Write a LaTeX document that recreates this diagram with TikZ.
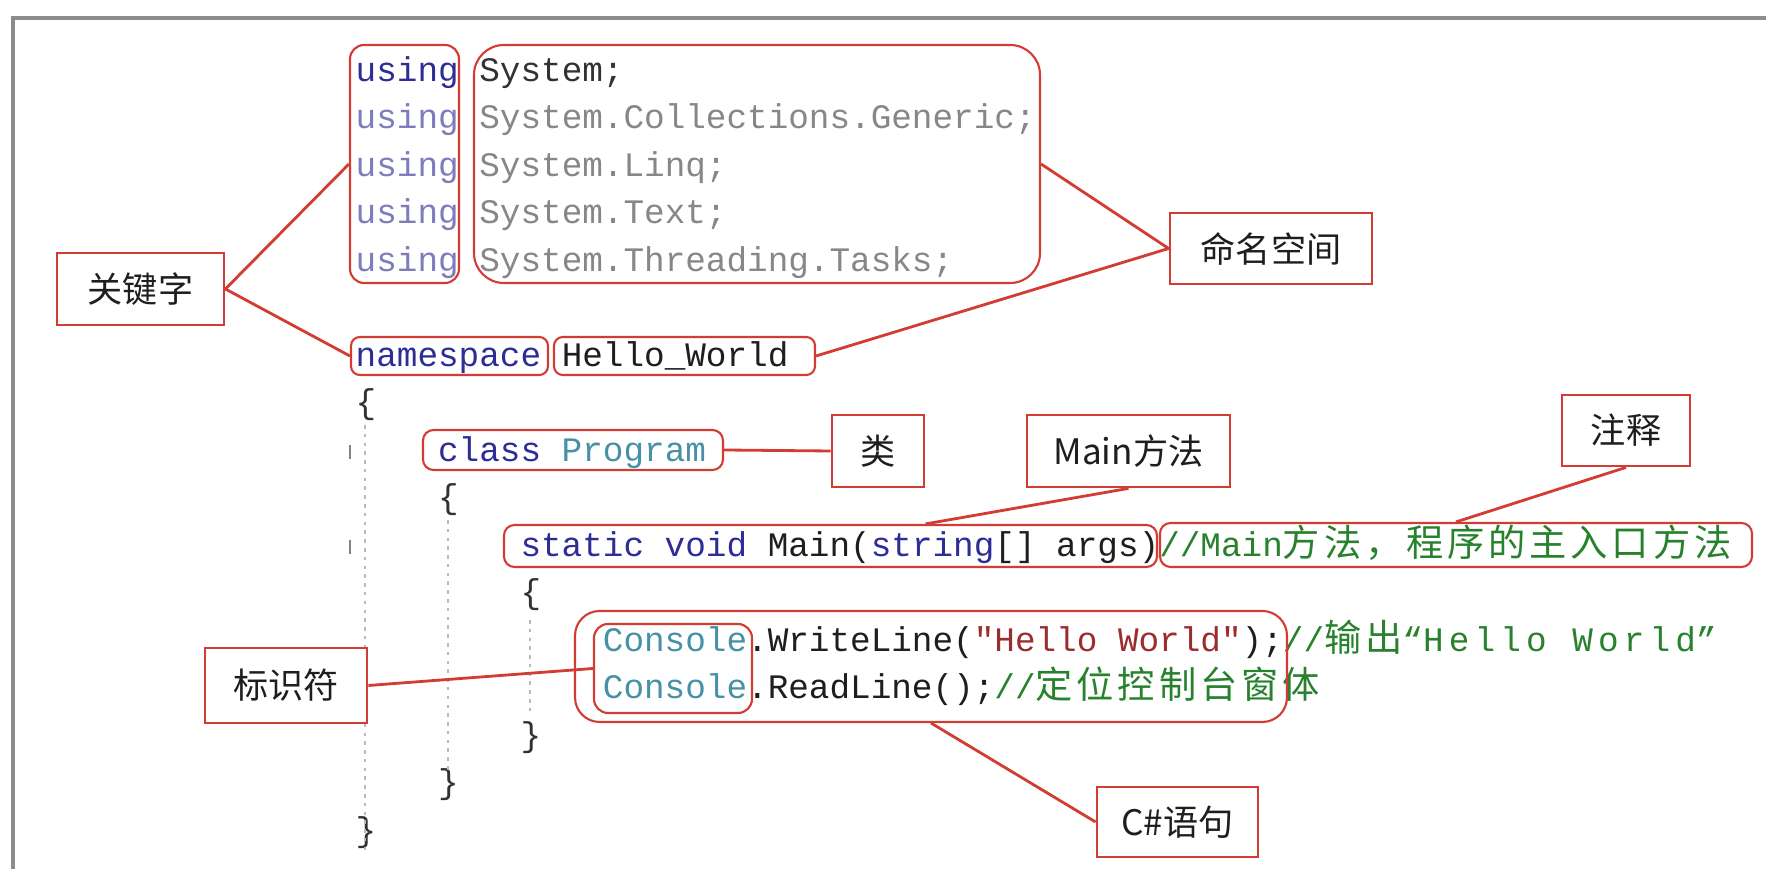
\documentclass[tikz,border=0pt]{standalone}
\usepackage{fontspec}
\usepackage{tikz}
\usetikzlibrary{calc}

\newfontfamily\codefont{Liberation Mono}
\newfontfamily\zhfont{Noto Sans CJK SC}
\newfontfamily\zhcodefont[LetterSpace=10.4]{Noto Sans CJK SC}
\newcommand{\zh}[1]{{\zhcodefont\fontsize{10.6pt}{12pt}\selectfont #1}}

\definecolor{kwblue}{RGB}{45,45,150}
\definecolor{kwfade}{RGB}{125,125,190}
\definecolor{typeteal}{RGB}{70,145,165}
\definecolor{nsdark}{RGB}{50,50,50}
\definecolor{nsgray}{RGB}{135,135,135}
\definecolor{strred}{RGB}{155,45,45}
\definecolor{cmtgreen}{RGB}{40,130,45}
\definecolor{boxred}{RGB}{210,60,50}
\definecolor{guidegray}{RGB}{185,185,185}
\definecolor{framegray}{RGB}{140,140,140}
\definecolor{codeink}{RGB}{30,30,30}

\tikzset{
  hlbox/.style={draw=boxred, line width=0.6pt, rounded corners=#1, inner sep=0pt},
  hlbox/.default=4pt,
  notebox/.style={draw=boxred, line width=0.8pt, fill=white, inner sep=0pt,
    text=codeink, font=\zhfont\fontsize{10pt}{12pt}\selectfont},
  src/.style={anchor=base west, inner sep=0pt, text=codeink,
    font=\codefont\fontsize{9.77pt}{12pt}\selectfont\frenchspacing},
  wire/.style={boxred, line width=0.8pt},
  indentguide/.style={guidegray, line width=0.6pt, dash pattern=on 1pt off 1.5pt}
}

\begin{document}
\begin{tikzpicture}
\fill[white] (0,0) rectangle (17.66,8.69);
\useasboundingbox (0,0) rectangle (17.66,8.69);

% --- WINDOW FRAME ---
\draw[framegray, line width=1pt] (0.13,0) -- (0.13,8.51) -- (17.66,8.51);

% --- SOURCE CODE ---
\node[src] (u0) at (3.55,7.875) {\textcolor{kwblue}{using} \textcolor{nsdark}{System;}};
\node[src] (u1) at (3.55,7.400) {\textcolor{kwfade}{using} \textcolor{nsgray}{System.Collections.Generic;}};
\node[src] (u2) at (3.55,6.925) {\textcolor{kwfade}{using} \textcolor{nsgray}{System.Linq;}};
\node[src] (u3) at (3.55,6.450) {\textcolor{kwfade}{using} \textcolor{nsgray}{System.Text;}};
\node[src] (u4) at (3.55,5.975) {\textcolor{kwfade}{using} \textcolor{nsgray}{System.Threading.Tasks;}};

\node[src] (ns) at (3.55,5.025) {\textcolor{kwblue}{namespace} Hello\_World};
\node[src, text=nsdark] (b0) at (3.55,4.550) {\{};
\node[src] (cls) at (4.374,4.075) {\textcolor{kwblue}{class} \textcolor{typeteal}{Program}};
\node[src, text=nsdark] (b1) at (4.374,3.600) {\{};
\node[src] (mth) at (5.198,3.125) {\textcolor{kwblue}{static void} Main(\textcolor{kwblue}{string}[] args)\textcolor{cmtgreen}{//Main\zh{方法，程序的主入口方法}}};
\node[src, text=nsdark] (b2) at (5.198,2.650) {\{};
\node[src] (wl) at (6.022,2.175) {\textcolor{typeteal}{Console}.WriteLine(\textcolor{strred}{"Hello World"});\textcolor{cmtgreen}{//\zh{输出}“{\addfontfeature{LetterSpace=15}Hello World}”}};
\node[src] (rl) at (6.022,1.700) {\textcolor{typeteal}{Console}.ReadLine();\textcolor{cmtgreen}{//\zh{定位控制台窗体}}};
\node[src, text=nsdark] (e2) at (5.198,1.225) {\}};
\node[src, text=nsdark] (e1) at (4.374,0.750) {\}};
\node[src, text=nsdark] (e0) at (3.55,0.275) {\}};

% indent guides
\draw[indentguide] (3.65,4.44) -- (3.65,0.19);
\draw[indentguide] (4.48,3.49) -- (4.48,0.96);
\draw[indentguide] (5.30,2.49) -- (5.30,1.56);
\draw[guidegray!70!black, line width=0.6pt] (3.50,4.24) -- (3.50,4.10);
\draw[guidegray!70!black, line width=0.6pt] (3.50,3.29) -- (3.50,3.15);

% --- HIGHLIGHTS ---
\node[hlbox=4pt, minimum width=1.09cm, minimum height=2.38cm] (usingbox) at (4.045,7.05) {};
\node[hlbox=8.5pt, minimum width=5.66cm, minimum height=2.38cm] (nsbox) at (7.57,7.05) {};
\node[hlbox=2.5pt, minimum width=1.97cm, minimum height=0.38cm] (nskw) at (4.495,5.13) {};
\node[hlbox=2.5pt, minimum width=2.61cm, minimum height=0.38cm] (hwbox) at (6.845,5.13) {};
\node[hlbox=3pt, minimum width=3.00cm, minimum height=0.40cm] (classbox) at (5.73,4.19) {};
\node[hlbox=3pt, minimum width=6.53cm, minimum height=0.42cm] (mainbox) at (8.305,3.23) {};
\node[hlbox=3pt, minimum width=5.92cm, minimum height=0.44cm] (cmtbox) at (14.56,3.24) {};
\node[hlbox=7pt, minimum width=7.12cm, minimum height=1.11cm] (stmtbox) at (9.31,2.025) {};
\node[hlbox=4pt, minimum width=1.58cm, minimum height=0.89cm] (idbox) at (6.73,2.005) {};

% --- LABELS ---
\node[notebox, minimum width=1.67cm, minimum height=0.72cm] (kwtag) at (1.405,5.80) {关键字};
\node[notebox, minimum width=2.02cm, minimum height=0.71cm] (nstag) at (12.71,6.205) {命名空间};
\node[notebox, minimum width=0.92cm, minimum height=0.72cm] (classtag) at (8.78,4.18) {类};
\node[notebox, minimum width=2.03cm, minimum height=0.72cm] (maintag) at (11.285,4.18) {Main方法};
\node[notebox, minimum width=1.28cm, minimum height=0.71cm] (cmttag) at (16.26,4.385) {注释};
\node[notebox, minimum width=1.62cm, minimum height=0.75cm] (idtag) at (2.86,1.835) {标识符};
\node[notebox, minimum width=1.61cm, minimum height=0.70cm] (stmttag) at (11.775,0.47) {C\#语句};

% --- CONNECTORS ---
\draw[wire] (kwtag.east) -- (usingbox.west);
\draw[wire] (kwtag.east) -- (nskw.west);
\draw[wire] (nsbox.east) -- (nstag.west);
\draw[wire] (hwbox.east) -- (nstag.west);
\draw[wire] (classbox.east) -- (classtag.west);
\draw[wire] (maintag.south) -- ($(mainbox.north east)!0.355!(mainbox.north west)$);
\draw[wire] (cmttag.south) -- (cmtbox.north);
\draw[wire] (stmtbox.south) -- (stmttag.west);
\draw[wire] (idtag.east) -- (idbox.west);
\end{tikzpicture}
\end{document}
